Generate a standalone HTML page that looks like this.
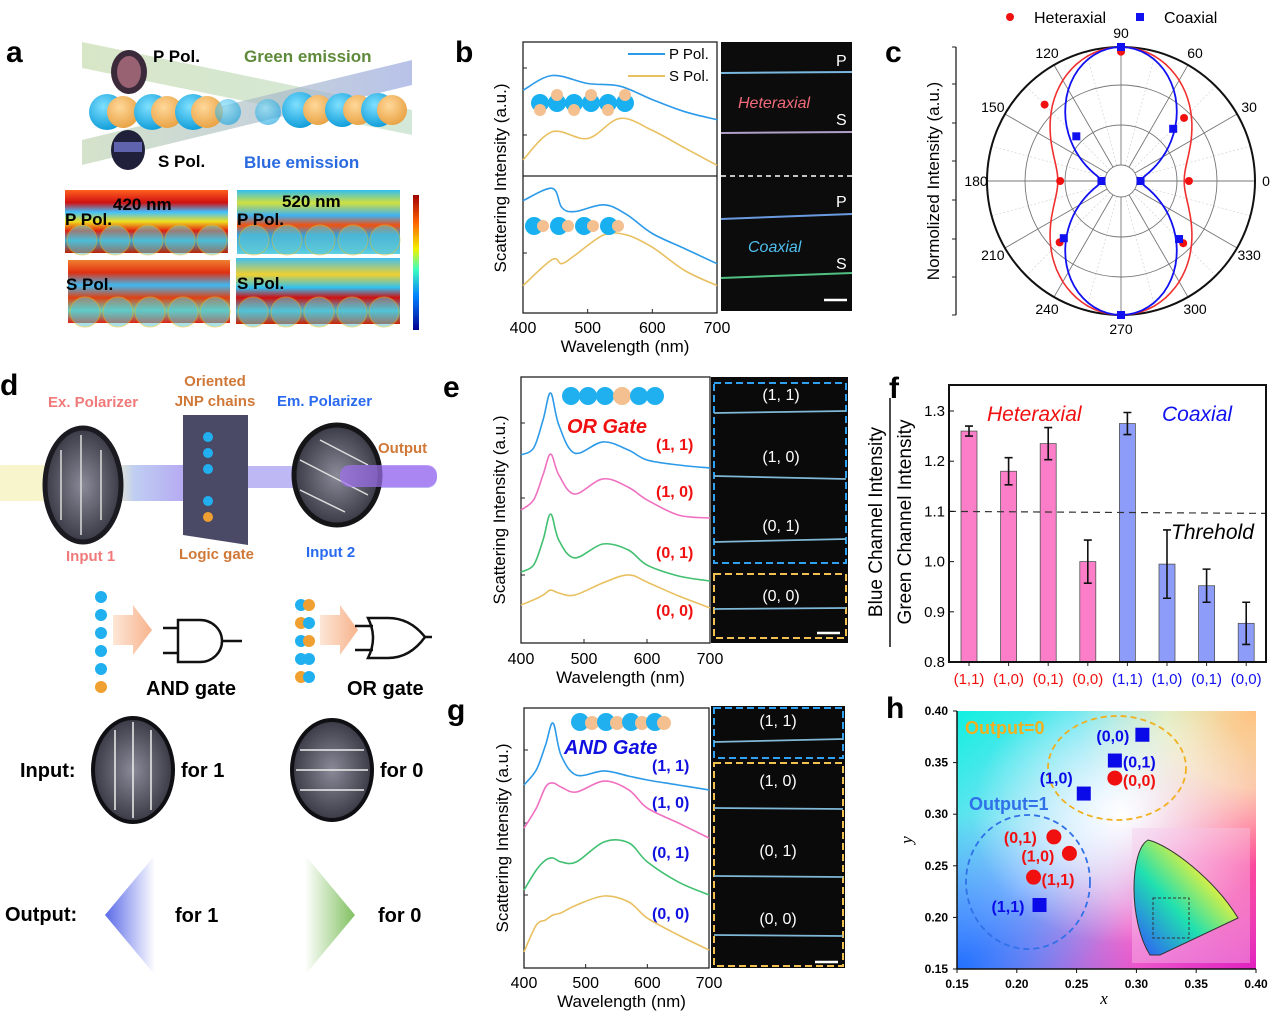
<!DOCTYPE html>
<html><head><meta charset="utf-8"><style>
body{margin:0;background:#fff}
svg{display:block;font-family:"Liberation Sans",Arial,sans-serif}
</style></head><body>
<svg id="fig" width="1271" height="1012" viewBox="0 0 1271 1012" xmlns="http://www.w3.org/2000/svg">
<defs>
<linearGradient id="beamG" x1="0" x2="1"><stop offset="0" stop-color="#c8dcb0" stop-opacity=".7"/><stop offset="1" stop-color="#b8d8c0" stop-opacity=".6"/></linearGradient>
<linearGradient id="beamB" x1="0" x2="1"><stop offset="0" stop-color="#b8d0a8" stop-opacity=".6"/><stop offset="1" stop-color="#9aa8e0" stop-opacity=".7"/></linearGradient>
<radialGradient id="bead" cx=".4" cy=".35" r=".7"><stop offset="0" stop-color="#7fe0ff"/><stop offset="1" stop-color="#0a9ad8"/></radialGradient>
<radialGradient id="beadO" cx=".4" cy=".35" r=".7"><stop offset="0" stop-color="#ffd89a"/><stop offset="1" stop-color="#e8a040"/></radialGradient>
<linearGradient id="heat1" x1="0" y1="0" x2="0" y2="1"><stop offset="0" stop-color="#ff6020"/><stop offset=".2" stop-color="#d01010"/><stop offset=".35" stop-color="#40c0ff"/><stop offset=".5" stop-color="#f0e020"/><stop offset=".65" stop-color="#e02010"/><stop offset=".8" stop-color="#30b0e0"/><stop offset="1" stop-color="#c02000"/></linearGradient>
<linearGradient id="heat2" x1="0" y1="0" x2="0" y2="1"><stop offset="0" stop-color="#30c0f0"/><stop offset=".2" stop-color="#d0e040"/><stop offset=".4" stop-color="#40b0f0"/><stop offset=".55" stop-color="#f05010"/><stop offset=".7" stop-color="#30a0e0"/><stop offset="1" stop-color="#60d0e0"/></linearGradient>
<linearGradient id="heat3" x1="0" y1="0" x2="0" y2="1"><stop offset="0" stop-color="#f08030"/><stop offset=".2" stop-color="#e03010"/><stop offset=".4" stop-color="#40b8f0"/><stop offset=".6" stop-color="#e04010"/><stop offset=".8" stop-color="#60d0c0"/><stop offset="1" stop-color="#e02010"/></linearGradient>
<linearGradient id="heat4" x1="0" y1="0" x2="0" y2="1"><stop offset="0" stop-color="#40c0f0"/><stop offset=".25" stop-color="#f0d030"/><stop offset=".45" stop-color="#30c0f0"/><stop offset=".6" stop-color="#d01010"/><stop offset=".8" stop-color="#40c0e0"/><stop offset="1" stop-color="#d02000"/></linearGradient>
<linearGradient id="cbar" x1="0" y1="1" x2="0" y2="0"><stop offset="0" stop-color="#000090"/><stop offset=".25" stop-color="#0080ff"/><stop offset=".45" stop-color="#40ffc0"/><stop offset=".6" stop-color="#f0f000"/><stop offset=".8" stop-color="#ff6000"/><stop offset="1" stop-color="#a00000"/></linearGradient>
<radialGradient id="disk" cx=".5" cy=".5" r=".6"><stop offset="0" stop-color="#8a8a98"/><stop offset="1" stop-color="#2a2a36"/></radialGradient>
<linearGradient id="beamD" x1="0" x2="1"><stop offset="0" stop-color="#f8f4c8"/><stop offset=".45" stop-color="#f4f0c0"/><stop offset=".55" stop-color="#b8c8f0"/><stop offset="1" stop-color="#a070f0"/></linearGradient>
<linearGradient id="arrowO" x1="0" x2="1"><stop offset="0" stop-color="#fde0cc"/><stop offset="1" stop-color="#f5a070"/></linearGradient>
<linearGradient id="triB" x1="0" x2="1"><stop offset="0" stop-color="#5a6ae8"/><stop offset="1" stop-color="#fff"/></linearGradient>
<linearGradient id="triG" x1="0" x2="1"><stop offset="0" stop-color="#fff"/><stop offset="1" stop-color="#80c060"/></linearGradient>
<radialGradient id="cieW" cx=".55" cy=".4" r=".5"><stop offset="0" stop-color="#fff"/><stop offset="1" stop-color="#fff" stop-opacity="0"/></radialGradient>
<linearGradient id="cieBase" x1="0" y1="0" x2="1" y2="1"><stop offset="0" stop-color="#10f0e0"/><stop offset=".45" stop-color="#b0d8ff"/><stop offset=".7" stop-color="#f070d0"/><stop offset="1" stop-color="#e020c0"/></linearGradient>
<radialGradient id="cieY" cx="1" cy="0" r=".6"><stop offset="0" stop-color="#ffc080"/><stop offset=".5" stop-color="#fff0a0" stop-opacity=".7"/><stop offset="1" stop-color="#fff0a0" stop-opacity="0"/></radialGradient>
<radialGradient id="cieBl" cx="0" cy="1" r=".6"><stop offset="0" stop-color="#2070ff"/><stop offset="1" stop-color="#2070ff" stop-opacity="0"/></radialGradient>
<radialGradient id="ciePk" cx="1" cy=".5" r=".5"><stop offset="0" stop-color="#ff4090"/><stop offset="1" stop-color="#ff4090" stop-opacity="0"/></radialGradient>
<linearGradient id="horse" x1="0" y1="1" x2="1" y2="0"><stop offset="0" stop-color="#3050ff"/><stop offset=".4" stop-color="#20e0b0"/><stop offset=".7" stop-color="#e0f040"/><stop offset="1" stop-color="#ff3030"/></linearGradient>
</defs>

<!-- ============ Panel a ============ -->
<g>
<text x="6" y="62" font-size="30" font-weight="bold">a</text>
<polygon points="82,42 412,110 412,135 82,68" fill="url(#beamG)"/>
<polygon points="82,140 412,60 412,85 82,165" fill="url(#beamB)"/>
<g>
<circle cx="107" cy="112" r="18" fill="url(#bead)"/><circle cx="123" cy="112" r="16" fill="url(#beadO)"/>
<circle cx="152" cy="112" r="18" fill="url(#bead)"/><circle cx="167" cy="112" r="16" fill="url(#beadO)"/>
<circle cx="193" cy="112" r="18" fill="url(#bead)"/><circle cx="207" cy="112" r="16" fill="url(#beadO)"/>
<circle cx="228" cy="112" r="13" fill="url(#bead)" opacity=".6"/><circle cx="268" cy="112" r="13" fill="url(#bead)" opacity=".6"/>
<circle cx="300" cy="110" r="18" fill="url(#bead)"/><circle cx="318" cy="110" r="15" fill="url(#beadO)"/>
<circle cx="342" cy="110" r="17" fill="url(#bead)"/><circle cx="358" cy="110" r="15" fill="url(#beadO)"/>
<circle cx="378" cy="110" r="17" fill="url(#bead)"/><circle cx="392" cy="110" r="15" fill="url(#beadO)"/>
</g>
<ellipse cx="129" cy="72" rx="18" ry="22" fill="#3a2a3a"/>
<ellipse cx="129" cy="72" rx="12" ry="16" fill="#c07a8a" opacity=".7"/>
<ellipse cx="128" cy="150" rx="17" ry="20" fill="#20203a"/>
<rect x="114" y="142" width="28" height="10" fill="#7a80e0" opacity=".7"/>
<text x="153" y="62" font-size="17" font-weight="bold">P Pol.</text>
<text x="158" y="167" font-size="17" font-weight="bold">S Pol.</text>
<text x="244" y="62" font-size="17" font-weight="bold" fill="#5e8a3a">Green emission</text>
<text x="244" y="168" font-size="17" font-weight="bold" fill="#2a6ae0">Blue emission</text>
<g>
<rect x="65" y="190" width="163" height="63" fill="url(#heat1)"/>
<rect x="237" y="190" width="163" height="64" fill="url(#heat2)"/>
<rect x="68" y="260" width="162" height="63" fill="url(#heat3)"/>
<rect x="236" y="258" width="164" height="66" fill="url(#heat4)"/>
<g fill="#60c8d0" opacity=".55" stroke="#e0c030" stroke-width="1">
<circle cx="82" cy="240" r="15"/><circle cx="115" cy="240" r="15"/><circle cx="148" cy="240" r="15"/><circle cx="180" cy="240" r="15"/><circle cx="212" cy="240" r="15"/>
<circle cx="254" cy="240" r="15"/><circle cx="287" cy="240" r="15"/><circle cx="320" cy="240" r="15"/><circle cx="353" cy="240" r="15"/><circle cx="385" cy="240" r="15"/>
<circle cx="85" cy="312" r="15"/><circle cx="118" cy="312" r="15"/><circle cx="150" cy="312" r="15"/><circle cx="183" cy="312" r="15"/><circle cx="215" cy="312" r="15"/>
<circle cx="253" cy="312" r="15"/><circle cx="286" cy="312" r="15"/><circle cx="319" cy="312" r="15"/><circle cx="352" cy="312" r="15"/><circle cx="384" cy="312" r="15"/>
</g>
<text x="113" y="210" font-size="17" font-weight="bold">420 nm</text>
<text x="282" y="207" font-size="17" font-weight="bold">520 nm</text>
<text x="65" y="225" font-size="17" font-weight="bold">P Pol.</text>
<text x="237" y="225" font-size="17" font-weight="bold">P Pol.</text>
<text x="66" y="290" font-size="17" font-weight="bold">S Pol.</text>
<text x="237" y="289" font-size="17" font-weight="bold">S Pol.</text>
<rect x="413" y="195" width="6" height="135" fill="url(#cbar)"/>
</g>
</g>

<!-- ============ Panel b ============ -->
<g id="pb">
<text x="455" y="62" font-size="30" font-weight="bold">b</text>
<rect x="721" y="42" width="131" height="269" fill="#0c0c0c"/>
<line x1="721" y1="176" x2="852" y2="176" stroke="#fff" stroke-width="1.5" stroke-dasharray="5,4"/>
<line x1="721" y1="73" x2="852" y2="72" stroke="#7ab8e0" stroke-width="2"/>
<line x1="721" y1="133" x2="852" y2="132" stroke="#b0a0c8" stroke-width="2"/>
<line x1="721" y1="219" x2="852" y2="214" stroke="#6a9ae0" stroke-width="2"/>
<line x1="721" y1="278" x2="852" y2="273" stroke="#50c080" stroke-width="2"/>
<text x="836" y="66" font-size="16" fill="#fff">P</text><text x="836" y="125" font-size="16" fill="#fff">S</text>
<text x="836" y="207" font-size="16" fill="#fff">P</text><text x="836" y="269" font-size="16" fill="#fff">S</text>
<text x="738" y="108" font-size="16" font-style="italic" fill="#f06a7a">Heteraxial</text>
<text x="748" y="252" font-size="16" font-style="italic" fill="#50c0f0">Coaxial</text>
<line x1="824" y1="300" x2="847" y2="300" stroke="#fff" stroke-width="2.5"/>
</g>

<!-- ============ Panel c ============ -->
<g id="pc">
<text x="885" y="62" font-size="30" font-weight="bold">c</text>
</g>

<!-- ============ Panel d ============ -->
<g>
<text x="0" y="395" font-size="30" font-weight="bold">d</text>
<rect x="0" y="465" width="245" height="36" fill="url(#beamD)" opacity=".9"/>
<rect x="200" y="466" width="237" height="22" rx="10" fill="#a8a0f0" opacity=".75"/>
<ellipse cx="83" cy="485" rx="38" ry="57" fill="url(#disk)" stroke="#1a1a20" stroke-width="5"/>
<g stroke="#ddd" stroke-width="1.5"><line x1="61" y1="450" x2="61" y2="520"/><line x1="81" y1="435" x2="81" y2="535"/><line x1="101" y1="450" x2="101" y2="520"/></g>
<polygon points="183,415 248,415 248,545 183,535" fill="#4a4a66"/>
<g><circle cx="208" cy="437" r="5" fill="#20b0f0"/><circle cx="208" cy="453" r="5" fill="#20b0f0"/><circle cx="208" cy="469" r="5" fill="#20b0f0"/><circle cx="208" cy="501" r="5" fill="#20b0f0"/><circle cx="208" cy="517" r="5" fill="#f0a030"/></g>
<ellipse cx="337" cy="475" rx="43" ry="50" fill="url(#disk)" stroke="#151518" stroke-width="5"/>
<g stroke="#ddd" stroke-width="1.5"><line x1="320" y1="440" x2="368" y2="465"/><line x1="300" y1="460" x2="368" y2="495"/><line x1="300" y1="490" x2="345" y2="512"/></g>
<rect x="340" y="465" width="97" height="22" rx="10" fill="#a070f0" opacity=".7"/>
<text x="48" y="407" font-size="15" font-weight="bold" fill="#f07a7a">Ex. Polarizer</text>
<text x="215" y="386" font-size="15" font-weight="bold" fill="#d07838" text-anchor="middle">Oriented</text>
<text x="215" y="406" font-size="15" font-weight="bold" fill="#d07838" text-anchor="middle">JNP chains</text>
<text x="277" y="406" font-size="15" font-weight="bold" fill="#2a6af0">Em. Polarizer</text>
<text x="378" y="453" font-size="15" font-weight="bold" fill="#d07838">Output</text>
<text x="66" y="561" font-size="15" font-weight="bold" fill="#f07a7a">Input 1</text>
<text x="179" y="559" font-size="15" font-weight="bold" fill="#d07838">Logic gate</text>
<text x="306" y="557" font-size="15" font-weight="bold" fill="#2a6af0">Input 2</text>
<g>
<circle cx="101" cy="597" r="6" fill="#20b0f0"/><circle cx="101" cy="615" r="6" fill="#20b0f0"/><circle cx="101" cy="633" r="6" fill="#20b0f0"/><circle cx="101" cy="651" r="6" fill="#20b0f0"/><circle cx="101" cy="669" r="6" fill="#20b0f0"/><circle cx="101" cy="687" r="6" fill="#f0a030"/>
</g>
<polygon points="113,615 133,615 133,605 152,630 133,655 133,645 113,645" fill="url(#arrowO)" opacity=".8"/>
<g fill="none" stroke="#111" stroke-width="2.5">
<path d="M178,620 L200,620 A22,21 0 0 1 200,662 L178,662 Z"/><line x1="163" y1="628" x2="178" y2="628"/><line x1="163" y1="653" x2="178" y2="653"/><line x1="222" y1="641" x2="242" y2="641"/>
</g>
<text x="146" y="695" font-size="20" font-weight="bold">AND gate</text>
<g>
<circle cx="301" cy="605" r="6" fill="#20b0f0"/><circle cx="309" cy="605" r="6" fill="#f0a030"/><circle cx="301" cy="623" r="6" fill="#f0a030"/><circle cx="309" cy="623" r="6" fill="#20b0f0"/><circle cx="301" cy="641" r="6" fill="#20b0f0"/><circle cx="309" cy="641" r="6" fill="#f0a030"/><circle cx="301" cy="659" r="6" fill="#20b0f0"/><circle cx="309" cy="659" r="6" fill="#20b0f0"/><circle cx="301" cy="677" r="6" fill="#f0a030"/><circle cx="309" cy="677" r="6" fill="#20b0f0"/>
</g>
<polygon points="320,615 340,615 340,605 358,630 340,655 340,645 320,645" fill="url(#arrowO)" opacity=".8"/>
<g fill="none" stroke="#111" stroke-width="2.5">
<path d="M368,618 L388,618 Q410,618 425,637 Q410,658 388,658 L368,658 Q378,638 368,618 Z"/><line x1="355" y1="626" x2="373" y2="626"/><line x1="355" y1="650" x2="373" y2="650"/><line x1="425" y1="637" x2="432" y2="637"/>
</g>
<text x="347" y="695" font-size="20" font-weight="bold">OR gate</text>
<text x="20" y="777" font-size="20" font-weight="bold">Input:</text>
<ellipse cx="133" cy="770" rx="40" ry="52" fill="url(#disk)" stroke="#101014" stroke-width="4"/>
<g stroke="#eee" stroke-width="1.5"><line x1="115" y1="730" x2="115" y2="810"/><line x1="133" y1="722" x2="133" y2="818"/><line x1="151" y1="730" x2="151" y2="810"/></g>
<text x="181" y="777" font-size="20" font-weight="bold">for 1</text>
<ellipse cx="332" cy="770" rx="40" ry="50" fill="url(#disk)" stroke="#101014" stroke-width="4"/>
<g stroke="#eee" stroke-width="1.5"><line x1="300" y1="750" x2="364" y2="750"/><line x1="296" y1="770" x2="368" y2="770"/><line x1="300" y1="790" x2="364" y2="790"/></g>
<text x="380" y="777" font-size="20" font-weight="bold">for 0</text>
<text x="5" y="921" font-size="20" font-weight="bold">Output:</text>
<polygon points="105,915 155,855 155,975" fill="url(#triB)"/>
<text x="175" y="922" font-size="20" font-weight="bold">for 1</text>
<polygon points="355,915 305,855 305,975" fill="url(#triG)"/>
<text x="378" y="922" font-size="20" font-weight="bold">for 0</text>
</g>

<!-- ============ Panel e ============ -->
<g id="pe">
<text x="443" y="397" font-size="30" font-weight="bold">e</text>
<rect x="711" y="377" width="137" height="266" fill="#0a0a0a"/>
<rect x="714" y="383" width="132" height="180" fill="none" stroke="#30a0f0" stroke-width="2" stroke-dasharray="7,4"/>
<rect x="714" y="574" width="132" height="64" fill="none" stroke="#f0c050" stroke-width="2" stroke-dasharray="7,4"/>
<g stroke="#80b8d8" stroke-width="1.8"><line x1="714" y1="413" x2="846" y2="411"/><line x1="714" y1="476" x2="846" y2="479"/><line x1="714" y1="542" x2="846" y2="539"/><line x1="714" y1="609" x2="846" y2="608"/></g>
<g fill="#fff" font-size="16" text-anchor="middle"><text x="781" y="400">(1, 1)</text><text x="781" y="462">(1, 0)</text><text x="781" y="531">(0, 1)</text><text x="781" y="601">(0, 0)</text></g>
<line x1="817" y1="633" x2="840" y2="633" stroke="#fff" stroke-width="2.5"/>
<g><circle cx="571" cy="396" r="9" fill="#20b0f0"/><circle cx="588" cy="396" r="9" fill="#20b0f0"/><circle cx="605" cy="396" r="9" fill="#20b0f0"/><circle cx="622" cy="396" r="9" fill="#f5c090"/><circle cx="639" cy="396" r="9" fill="#20b0f0"/><circle cx="655" cy="396" r="9" fill="#20b0f0"/></g>
<text x="567" y="433" font-size="20" font-weight="bold" font-style="italic" fill="#f01010">OR Gate</text>
<g fill="#f01010" font-size="16" font-weight="bold"><text x="656" y="450">(1, 1)</text><text x="656" y="497">(1, 0)</text><text x="656" y="558">(0, 1)</text><text x="656" y="616">(0, 0)</text></g>
</g>

<!-- ============ Panel f ============ -->
<g id="pf">
<text x="889" y="398" font-size="30" font-weight="bold">f</text>
</g>

<!-- ============ Panel g ============ -->
<g id="pg">
<text x="447" y="720" font-size="30" font-weight="bold">g</text>
<rect x="711" y="706" width="134" height="262" fill="#0a0a0a"/>
<rect x="714" y="708" width="129" height="50" fill="none" stroke="#30a0f0" stroke-width="2" stroke-dasharray="7,4"/>
<rect x="714" y="763" width="129" height="203" fill="none" stroke="#f0c050" stroke-width="2" stroke-dasharray="7,4"/>
<g stroke="#80b8d8" stroke-width="1.8"><line x1="714" y1="742" x2="843" y2="739"/><line x1="714" y1="808" x2="843" y2="809"/><line x1="714" y1="876" x2="843" y2="877"/><line x1="714" y1="935" x2="843" y2="936"/></g>
<g fill="#fff" font-size="16" text-anchor="middle"><text x="778" y="726">(1, 1)</text><text x="778" y="786">(1, 0)</text><text x="778" y="856">(0, 1)</text><text x="778" y="924">(0, 0)</text></g>
<line x1="815" y1="962" x2="838" y2="962" stroke="#fff" stroke-width="2.5"/>
<g><circle cx="580" cy="722" r="9" fill="#20b0f0"/><circle cx="592" cy="723" r="7" fill="#f5c090"/><circle cx="606" cy="722" r="9" fill="#20b0f0"/><circle cx="617" cy="723" r="7" fill="#f5c090"/><circle cx="631" cy="722" r="9" fill="#20b0f0"/><circle cx="642" cy="723" r="7" fill="#f5c090"/><circle cx="655" cy="722" r="9" fill="#20b0f0"/><circle cx="664" cy="723" r="7" fill="#f5c090"/></g>
<text x="564" y="754" font-size="20" font-weight="bold" font-style="italic" fill="#1010e0">AND Gate</text>
<g fill="#1010e0" font-size="16" font-weight="bold"><text x="652" y="771">(1, 1)</text><text x="652" y="808">(1, 0)</text><text x="652" y="858">(0, 1)</text><text x="652" y="919">(0, 0)</text></g>
</g>

<!-- ============ Panel h ============ -->
<g id="ph">
<text x="886" y="718" font-size="30" font-weight="bold">h</text>
<rect x="957" y="711" width="299" height="258" fill="url(#cieBase)"/>
<rect x="957" y="711" width="299" height="258" fill="url(#cieBl)"/>
<rect x="957" y="711" width="299" height="258" fill="url(#ciePk)"/>
<rect x="957" y="711" width="299" height="258" fill="url(#cieY)"/>
<rect x="957" y="711" width="299" height="258" fill="url(#cieW)"/>
<g>
<rect x="1132" y="828" width="118" height="135" fill="#f7c8ec" opacity=".4"/>
<path d="M1150,955 C1128,920 1130,850 1148,840 C1170,845 1215,880 1238,918 L1160,955 Z" fill="url(#horse)" stroke="#333" stroke-width="1"/>
<rect x="1153" y="898" width="36" height="40" fill="none" stroke="#333" stroke-dasharray="3,2"/>
</g>
</g>
</svg>

<script>
// ---------- data ----------
const bWl = [400, 445, 500, 550, 600, 650, 700];
const bHetP = [64, 75, 69, 67, 57, 48, 42];
const bHetS = [12, 33, 28, 43, 34, 21, 8];
const bWl2 = [400, 445, 460, 480, 525, 560, 600, 650, 700];
const bCoaP = [82, 91, 77, 74, 79, 72, 58, 47, 36];
const bCoaS = [20, 39, 36, 42, 57, 57, 48, 31, 20];

const egWl = [400, 420, 435, 447, 460, 485, 530, 570, 600, 650, 700];
const eBlue = [70.7, 73.3, 83.8, 94, 82, 71.4, 75.6, 72.6, 68.8, 66.9, 65.8];
const ePink = [50, 53.8, 63.2, 71, 63.2, 56, 61.7, 58.6, 53.8, 48.1, 47];
const eGreen = [26.7, 29.3, 38.7, 48.5, 38.7, 32, 37.2, 35, 29.3, 25.2, 23.3];
const eYellow = [14.3, 16.2, 18, 19.9, 18.8, 18, 22.6, 25.6, 22.9, 17.7, 13.2];
const gBlue = [70.4, 76.2, 85.8, 94.2, 81.9, 74.2, 75.8, 73.8, 72.3, 70.4, 68.5];
const gPink = [53.8, 61.5, 69.6, 71.2, 69.6, 67.7, 71.9, 68.5, 61.5, 55.8, 50];
const gGreen = [30, 37.7, 41.5, 42.3, 40.8, 40.8, 48.5, 48.1, 40.8, 33.1, 28.1];
const gYellow = [6.2, 16.5, 18.5, 20.4, 21.2, 24.2, 27.7, 25.4, 19.2, 12.7, 6.9];
const wlTicks = [400, 500, 600, 700];

const polarAngles = [0, 45, 90, 135, 180, 225, 270, 315];
const hetPoints = [0.44, 0.62, 0.96, 0.78, 0.38, 0.60, 1.0, 0.61];
const coaPoints = [0.03, 0.49, 1.0, 0.40, 0.03, 0.55, 1.0, 0.56];
const hetFit = [0.40, 0.60];
const coaFit = [0.03, 0.97];
const angleLabels = [0, 30, 60, 90, 120, 150, 180, 210, 240, 270, 300, 330];

const fCats = ['(1,1)', '(1,0)', '(0,1)', '(0,0)', '(1,1)', '(1,0)', '(0,1)', '(0,0)'];
const fGroup = ['het', 'het', 'het', 'het', 'coa', 'coa', 'coa', 'coa'];
const fVals = [1.26, 1.18, 1.235, 1.0, 1.275, 0.995, 0.952, 0.877];
const fErr = [0.01, 0.027, 0.032, 0.043, 0.022, 0.068, 0.033, 0.042];
const fTicks = [0.8, 0.9, 1.0, 1.1, 1.2, 1.3];
const fThreshold = 1.1;

const hLabels = ['(0,0)', '(0,1)', '(1,0)', '(1,1)'];
const hSqX = [0.305, 0.282, 0.256, 0.219];
const hSqY = [0.377, 0.352, 0.320, 0.212];
const hCirX = [0.282, 0.231, 0.244, 0.214];
const hCirY = [0.335, 0.278, 0.262, 0.239];
const hTicks = [0.15, 0.20, 0.25, 0.30, 0.35, 0.40];

// ---------- helpers ----------
const NS = 'http://www.w3.org/2000/svg';
function mk(parent, tag, attrs, text) {
  const el = document.createElementNS(NS, tag);
  for (const k in attrs) el.setAttribute(k, attrs[k]);
  if (text !== undefined) el.textContent = text;
  parent.appendChild(el);
  return el;
}
function lin(d0, d1, r0, r1) { return v => r0 + (v - d0) / (d1 - d0) * (r1 - r0); }
function smoothPath(xs, ys) {
  let d = 'M' + xs[0].toFixed(1) + ',' + ys[0].toFixed(1);
  for (let i = 0; i < xs.length - 1; i++) {
    const x0 = xs[Math.max(0, i - 1)], y0 = ys[Math.max(0, i - 1)];
    const x1 = xs[i], y1 = ys[i], x2 = xs[i + 1], y2 = ys[i + 1];
    const x3 = xs[Math.min(xs.length - 1, i + 2)], y3 = ys[Math.min(xs.length - 1, i + 2)];
    const c1x = x1 + (x2 - x0) / 6, c1y = y1 + (y2 - y0) / 6;
    const c2x = x2 - (x3 - x1) / 6, c2y = y2 - (y3 - y1) / 6;
    d += ' C' + c1x.toFixed(1) + ',' + c1y.toFixed(1) + ' ' + c2x.toFixed(1) + ',' + c2y.toFixed(1) + ' ' + x2.toFixed(1) + ',' + y2.toFixed(1);
  }
  return d;
}
function spectrum(g, wl, vals, xS, yS, color) {
  return mk(g, 'path', { d: smoothPath(wl.map(xS), vals.map(yS)), fill: 'none', stroke: color, 'stroke-width': 1.6 });
}
function wlAxis(g, x0, x1, yTop, yBot, labelY) {
  const xS = lin(400, 700, x0, x1);
  const box = mk(g, 'rect', { x: x0, y: yTop, width: x1 - x0, height: yBot - yTop, fill: 'none', stroke: '#222', 'stroke-width': 1.3 });
  
  
  wlTicks.forEach(t => {
    mk(g, 'line', { x1: xS(t), x2: xS(t), y1: yBot, y2: yBot - 4, stroke: '#222' });
    const tl = mk(g, 'text', { x: xS(t), y: labelY, 'font-size': 16, 'text-anchor': 'middle' }, String(t));
    
    
  });
  const xt = mk(g, 'text', { x: (x0 + x1) / 2 + 5, y: labelY + 19, 'font-size': 17, 'text-anchor': 'middle' }, 'Wavelength (nm)');
  
  
  return xS;
}
function yTitle(g, x, yc, txt) {
  const t = mk(g, 'text', { x: x, y: yc, 'font-size': 17, 'text-anchor': 'middle', transform: 'rotate(-90 ' + x + ' ' + yc + ')' }, txt);
  
  
}

// ---------- panel b ----------
(function () {
  const g = document.getElementById('pb');
  const xS = wlAxis(g, 523, 717, 42, 313, 333);
  mk(g, 'line', { x1: 523, x2: 717, y1: 176, y2: 176, stroke: '#222', 'stroke-width': 1.3 });
  const yT = lin(0, 100, 176, 42), yB = lin(0, 100, 313, 176);
  [68, 135, 253].forEach(y => mk(g, 'line', { x1: 523, x2: 527, y1: y, y2: y, stroke: '#222' }));
  let p = spectrum(g, bWl, bHetP, xS, yT, '#2c9ae8');
  
  
  p = spectrum(g, bWl, bHetS, xS, yT, '#e8c060');
  
  
  p = spectrum(g, bWl2, bCoaP, xS, yB, '#2c9ae8');
  
  
  p = spectrum(g, bWl2, bCoaS, xS, yB, '#e8c060');
  
  
  yTitle(g, 506, 178, 'Scattering Intensity (a.u.)');
  mk(g, 'line', { x1: 628, x2: 665, y1: 54, y2: 54, stroke: '#2c9ae8', 'stroke-width': 2 });
  mk(g, 'line', { x1: 628, x2: 665, y1: 76, y2: 76, stroke: '#e8c060', 'stroke-width': 2 });
  const l1 = mk(g, 'text', { x: 669, y: 59, 'font-size': 15 }, 'P Pol.');
  
  
  const l2 = mk(g, 'text', { x: 669, y: 81, 'font-size': 15 }, 'S Pol.');
  
  
  for (let i = 0; i < 6; i++) {
    const cx = 540 + i * 17;
    mk(g, 'circle', { cx: cx, cy: 103, r: 9, fill: '#18b0f0' });
    mk(g, 'circle', { cx: cx, cy: i % 2 ? 95 : 110, r: 6, fill: '#f5c090' });
  }
  for (let i = 0; i < 4; i++) {
    const cx = 534 + i * 25;
    mk(g, 'circle', { cx: cx, cy: 226, r: 9, fill: '#18b0f0' });
    mk(g, 'circle', { cx: cx + 9, cy: 226, r: 6, fill: '#f5c090' });
  }
})();

// ---------- panel c ----------
(function () {
  const g = document.getElementById('pc');
  const cx = 1121, cy = 181, R = 134, r0 = 16;
  const rS = v => r0 + v * (R - r0);
  const pt = (a, r) => [cx + r * Math.cos(a * Math.PI / 180), cy - r * Math.sin(a * Math.PI / 180)];
  for (let a = 0; a < 360; a += 15) {
    const [x1, y1] = pt(a, r0), [x2, y2] = pt(a, R);
    mk(g, 'line', { x1, y1, x2, y2, stroke: a % 30 ? '#ccc' : '#777', 'stroke-width': a % 30 ? 0.6 : 0.9, 'stroke-dasharray': a % 30 ? '2,2' : 'none' });
  }
  [r0, 56, 96].forEach(r => mk(g, 'circle', { cx, cy, r, fill: 'none', stroke: '#777', 'stroke-width': 0.9 }));
  const outer = mk(g, 'circle', { cx, cy, r: R, fill: 'none', stroke: '#111', 'stroke-width': 2 });
  
  
  angleLabels.forEach(a => {
    const [x, y] = pt(a, R + (a % 180 === 0 ? 11 : 14));
    const t = mk(g, 'text', { x, y: y + 5, 'font-size': 14, 'text-anchor': 'middle' }, String(a));
    
    
  });
  function fitPath(fit) {
    let d = '';
    for (let a = 0; a <= 360; a += 3) {
      const c = Math.sin(a * Math.PI / 180);
      const [x, y] = pt(a, rS(fit[0] + fit[1] * c * c));
      d += (a ? 'L' : 'M') + x.toFixed(1) + ',' + y.toFixed(1);
    }
    return d + 'Z';
  }
  const hf = mk(g, 'path', { d: fitPath(hetFit), fill: 'none', stroke: '#f03030', 'stroke-width': 1.6 });
  
  
  const cf = mk(g, 'path', { d: fitPath(coaFit), fill: 'none', stroke: '#1010f0', 'stroke-width': 1.8 });
  
  
  polarAngles.forEach((a, i) => {
    const [x, y] = pt(a, rS(hetPoints[i]));
    const c = mk(g, 'circle', { cx: x, cy: y, r: 4, fill: '#f01010' });
    
    
    const [x2, y2] = pt(a, rS(coaPoints[i]));
    const s = mk(g, 'rect', { x: x2 - 4, y: y2 - 4, width: 8, height: 8, fill: '#1010f0' });
    
    
  });
  mk(g, 'line', { x1: 956, x2: 956, y1: 47, y2: 315, stroke: '#222', 'stroke-width': 1.3 });
  [47, 84, 123, 161, 200, 239, 277, 315].forEach(y => mk(g, 'line', { x1: 952, x2: 956, y1: y, y2: y, stroke: '#222' }));
  yTitle(g, 939, 181, 'Normolized Intensity (a.u.)');
  mk(g, 'circle', { cx: 1010, cy: 17, r: 4, fill: '#f01010' });
  const lh = mk(g, 'text', { x: 1034, y: 23, 'font-size': 16 }, 'Heteraxial');
  
  
  mk(g, 'rect', { x: 1136, y: 13, width: 8, height: 8, fill: '#1010f0' });
  const lc = mk(g, 'text', { x: 1164, y: 23, 'font-size': 16 }, 'Coaxial');
  
  
})();

// ---------- panel e ----------
(function () {
  const g = document.getElementById('pe');
  const xS = wlAxis(g, 521, 710, 377, 643, 664);
  const yS = lin(0, 100, 643, 377);
  [423, 498, 575].forEach(y => mk(g, 'line', { x1: 521, x2: 525, y1: y, y2: y, stroke: '#222' }));
  const series = [[eBlue, '#2c9ae8', 'e-line-11'], [ePink, '#f070c0', 'e-line-10'], [eGreen, '#40c070', 'e-line-01'], [eYellow, '#e8c060', 'e-line-00']];
  series.forEach(s => {
    const p = spectrum(g, egWl, s[0], xS, yS, s[1]);
    
    
  });
  yTitle(g, 505, 510, 'Scattering Intensity (a.u.)');
})();

// ---------- panel g ----------
(function () {
  const g = document.getElementById('pg');
  const xS = wlAxis(g, 524, 709, 708, 968, 988);
  const yS = lin(0, 100, 968, 708);
  [750, 823, 895].forEach(y => mk(g, 'line', { x1: 524, x2: 528, y1: y, y2: y, stroke: '#222' }));
  const series = [[gBlue, '#2c9ae8', 'g-line-11'], [gPink, '#f070c0', 'g-line-10'], [gGreen, '#40c070', 'g-line-01'], [gYellow, '#e8c060', 'g-line-00']];
  series.forEach(s => {
    const p = spectrum(g, egWl, s[0], xS, yS, s[1]);
    
    
  });
  yTitle(g, 508, 838, 'Scattering Intensity (a.u.)');
})();

// ---------- panel f ----------
(function () {
  const g = document.getElementById('pf');
  const x0 = 949, x1 = 1266, yTop = 385, yBot = 662;
  const yS = lin(0.8, 1.3, 662, 411);
  const xS = i => 969 + i * 39.6;
  fVals.forEach((v, i) => {
    const b = mk(g, 'rect', { x: xS(i) - 8, y: yS(v), width: 16, height: yBot - yS(v), fill: fGroup[i] === 'het' ? '#fc7ec8' : '#8c9cf8', stroke: '#555', 'stroke-width': 0.8 });
    
    
    const e = mk(g, 'path', { d: 'M' + xS(i) + ',' + yS(v - fErr[i]) + 'V' + yS(v + fErr[i]) + 'M' + (xS(i) - 4) + ',' + yS(v - fErr[i]) + 'h8M' + (xS(i) - 4) + ',' + yS(v + fErr[i]) + 'h8', stroke: '#111', 'stroke-width': 1.6, fill: 'none' });
    
    
    mk(g, 'line', { x1: xS(i), x2: xS(i), y1: yBot, y2: yBot + 4, stroke: '#222' });
    const t = mk(g, 'text', { x: xS(i), y: 684, 'font-size': 15, 'text-anchor': 'middle', fill: fGroup[i] === 'het' ? '#f01010' : '#1010f0' }, fCats[i]);
    
    
  });
  const th = mk(g, 'line', { x1: x0, x2: x1, y1: yS(fThreshold), y2: yS(fThreshold) + 2, stroke: '#333', 'stroke-width': 1.2, 'stroke-dasharray': '7,5' });
  
  
  const fr = mk(g, 'path', { d: 'M' + x0 + ',' + yTop + 'V' + yBot + 'H' + x1 + 'V' + yTop + 'Z', fill: 'none', stroke: '#111', 'stroke-width': 2 });
  
  
  fTicks.forEach(t => {
    mk(g, 'line', { x1: x0, x2: x0 + 5, y1: yS(t), y2: yS(t), stroke: '#111' });
    const l = mk(g, 'text', { x: x0 - 4, y: yS(t) + 5, 'font-size': 15, 'text-anchor': 'end' }, t.toFixed(1));
    
    
  });
  const a = mk(g, 'text', { x: 987, y: 421, 'font-size': 21, 'font-style': 'italic', fill: '#f01010' }, 'Heteraxial');
  
  
  const b = mk(g, 'text', { x: 1162, y: 421, 'font-size': 21, 'font-style': 'italic', fill: '#1010f0' }, 'Coaxial');
  
  
  const c = mk(g, 'text', { x: 1171, y: 539, 'font-size': 21, 'font-style': 'italic' }, 'Threhold');
  
  
  mk(g, 'text', { x: 882, y: 522, 'font-size': 19, 'text-anchor': 'middle', transform: 'rotate(-90 882 522)' }, 'Blue Channel Intensity');
  mk(g, 'line', { x1: 890, x2: 890, y1: 398, y2: 647, stroke: '#111', 'stroke-width': 1.5 });
  mk(g, 'text', { x: 911, y: 522, 'font-size': 19, 'text-anchor': 'middle', transform: 'rotate(-90 911 522)' }, 'Green Channel Intensity');
})();

// ---------- panel h ----------
(function () {
  const g = document.getElementById('ph');
  const xS = lin(0.15, 0.40, 957, 1256), yS = lin(0.15, 0.40, 969, 711);
  const e1 = mk(g, 'ellipse', { cx: 1117, cy: 768, rx: 69, ry: 52, fill: 'none', stroke: '#f0b020', 'stroke-width': 1.8, 'stroke-dasharray': '6,4' });
  
  
  const e2 = mk(g, 'ellipse', { cx: 1028, cy: 882, rx: 62, ry: 67, fill: 'none', stroke: '#3070e8', 'stroke-width': 1.8, 'stroke-dasharray': '6,4' });
  
  
  const o0 = mk(g, 'text', { x: 965, y: 734, 'font-size': 18, 'font-weight': 'bold', fill: '#f0b020' }, 'Output=0');
  
  
  const o1 = mk(g, 'text', { x: 969, y: 810, 'font-size': 18, 'font-weight': 'bold', fill: '#3070e8' }, 'Output=1');
  
  
  const sqOff = [[-46, 7], [8, 7], [-44, -10], [-48, 7]];
  const cOff = [[8, 8], [-50, 6], [-48, 8], [8, 8]];
  hLabels.forEach((lab, i) => {
    const sx = xS(hSqX[i]), sy = yS(hSqY[i]);
    const s = mk(g, 'rect', { x: sx - 7, y: sy - 7, width: 14, height: 14, fill: '#0a0ae8' });
    
    
    const t = mk(g, 'text', { x: sx + sqOff[i][0], y: sy + sqOff[i][1], 'font-size': 16, 'font-weight': 'bold', fill: '#0a0ae8' }, lab);
    
    
    const cx = xS(hCirX[i]), cy = yS(hCirY[i]);
    const c = mk(g, 'circle', { cx, cy, r: 7.5, fill: '#f01010' });
    
    
    const t2 = mk(g, 'text', { x: cx + cOff[i][0], y: cy + cOff[i][1], 'font-size': 16, 'font-weight': 'bold', fill: '#f01010' }, lab);
    
    
  });
  const fr = mk(g, 'path', { d: 'M957,711V969H1256', fill: 'none', stroke: '#111', 'stroke-width': 1.5 });
  
  
  hTicks.forEach(t => {
    mk(g, 'line', { x1: xS(t), x2: xS(t), y1: 969, y2: 973, stroke: '#111' });
    const lx = mk(g, 'text', { x: xS(t), y: 988, 'font-size': 12, 'font-weight': 'bold', 'text-anchor': 'middle' }, t.toFixed(2));
    
    
    mk(g, 'line', { x1: 953, x2: 957, y1: yS(t), y2: yS(t), stroke: '#111' });
    const ly = mk(g, 'text', { x: 948, y: yS(t) + 4, 'font-size': 12, 'font-weight': 'bold', 'text-anchor': 'end' }, t.toFixed(2));
    
    
  });
  const xt = mk(g, 'text', { x: 1104, y: 1004, 'font-size': 17, 'font-style': 'italic', 'font-family': 'Liberation Serif, serif', 'text-anchor': 'middle' }, 'x');
  
  
  const yt = mk(g, 'text', { x: 912, y: 840, 'font-size': 17, 'font-style': 'italic', 'font-family': 'Liberation Serif, serif', 'text-anchor': 'middle', transform: 'rotate(-90 912 840)' }, 'y');
  
  
})();
</script>
</body></html>
